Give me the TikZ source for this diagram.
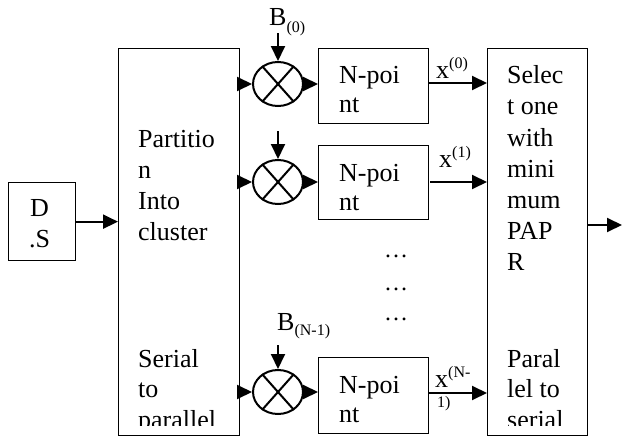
\documentclass[tikz,border=0pt]{standalone}
\usepackage{fontspec}
\setmainfont{Liberation Serif}
\usetikzlibrary{arrows.meta,shapes.geometric}
\begin{document}
\begin{tikzpicture}[x=1pt,y=-1pt,
  box/.style={draw,line width=1.3pt,inner sep=0pt,anchor=north west},
  mult/.style={draw,ellipse,line width=2pt,minimum width=50pt,minimum height=44pt,inner sep=0pt},
  conn/.style={line width=2pt,-{Triangle[length=15pt,width=14pt]}},
  txt/.style={anchor=base west,inner sep=0pt,font=\fontsize{26}{30}\selectfont},
  dots/.style={anchor=base,inner sep=0pt,font=\fontsize{24}{30}\selectfont}]
\useasboundingbox (0,0) rectangle (622,439);
% boxes
\node[box,minimum width=67pt,minimum height=78pt] (ds) at (8,182) {};
\node[box,minimum width=121pt,minimum height=387pt] (part) at (118,48) {};
\node[box,minimum width=110pt,minimum height=75pt] (n0) at (318,48) {};
\node[box,minimum width=110pt,minimum height=74pt] (n1) at (318,145) {};
\node[box,minimum width=110pt,minimum height=76pt] (n2) at (318,357) {};
\node[box,minimum width=100pt,minimum height=387pt] (sel) at (487,48) {};
% multipliers
\node[mult] (m0) at (278,84) {};
\node[mult] (m1) at (278,182) {};
\node[mult] (m2) at (278,392) {};
\foreach \m in {m0,m1,m2}{
  \draw[line width=2pt] ([shift={(-16,-18)}]\m.center) -- ([shift={(16,18)}]\m.center);
  \draw[line width=2pt] ([shift={(16,-18)}]\m.center) -- ([shift={(-16,18)}]\m.center);
}
% connectors
\draw[conn] (ds.east) -- (part.west |- ds.east);
\draw[conn] (part.east |- m0) -- (m0.west);
\draw[conn] (part.east |- m1) -- (m1.west);
\draw[conn] (part.east |- m2) -- (m2.west);
\draw[conn] (m0.east) -- (n0.west |- m0.east);
\draw[conn] (m1.east) -- (n1.west |- m1.east);
\draw[conn] (m2.east) -- (n2.west |- m2.east);
\coordinate (a0) at (428,83);
\coordinate (a1) at (430,182);
\coordinate (a2) at (428,393);
\draw[conn] (a0) -- (sel.west |- a0);
\draw[conn] (a1) -- (sel.west |- a1);
\draw[conn] (a2) -- (sel.west |- a2);
\coordinate (out) at (622,225);
\draw[conn] (sel.east |- out) -- (out);
\coordinate (b0) at (278,33);
\coordinate (b1) at (278,131);
\coordinate (b2) at (278,345);
\draw[conn] (b0) -- (m0.north);
\draw[conn] (b1) -- (m1.north);
\draw[conn] (b2) -- (m2.north);
% labels
\node[txt] (lb0) at (269,26) {B\raisebox{-6pt}{\fontsize{16}{16}\selectfont(0)}};
\node[txt] (lb2) at (277,330) {B\raisebox{-5pt}{\fontsize{16}{16}\selectfont(N-1)}};
\node[txt] (lx0) at (436,78) {x\raisebox{10pt}{\fontsize{16}{16}\selectfont(0)}};
\node[txt] (lx1) at (439,167) {x\raisebox{10pt}{\fontsize{16}{16}\selectfont(1)}};
\node[txt] (lx2) at (435,387) {x\raisebox{10pt}{\fontsize{16}{16}\selectfont(N-}};
\node[anchor=base west,inner sep=0pt,font=\fontsize{16}{16}\selectfont] (lx2b) at (437,407) {1)};
% text
\node[txt] (dsa) at (30,216) {D};
\node[txt] (dsb) at (29,247) {.S};
\foreach \b/\y in {n0/83,n1/181,n2/393}{
  \node[txt] (\b t1) at (339,\y) {N-poi};
  \node[txt] (\b t2) at (339,\y+29) {nt};
}
\node[dots] (d1) at (396,257) {…};
\node[dots] (d2) at (396,290) {…};
\node[dots] (d3) at (396,320) {…};
\begin{scope}
\clip (0,0) rectangle (622,425);
\foreach \t/\y [count=\i] in {Partitio/147,n/178,Into/209,cluster/240,Serial/367,to/397,parallel/428}
  \node[txt] (pa\i) at (138,\y) {\t};
\foreach \t/\y [count=\i] in {Selec/83,t one/114,with/146,mini/177,mum/208,PAP/239,R/270,Paral/367,lel to/397,serial/428}
  \node[txt] (se\i) at (507,\y) {\t};
\end{scope}
\end{tikzpicture}
\end{document}
